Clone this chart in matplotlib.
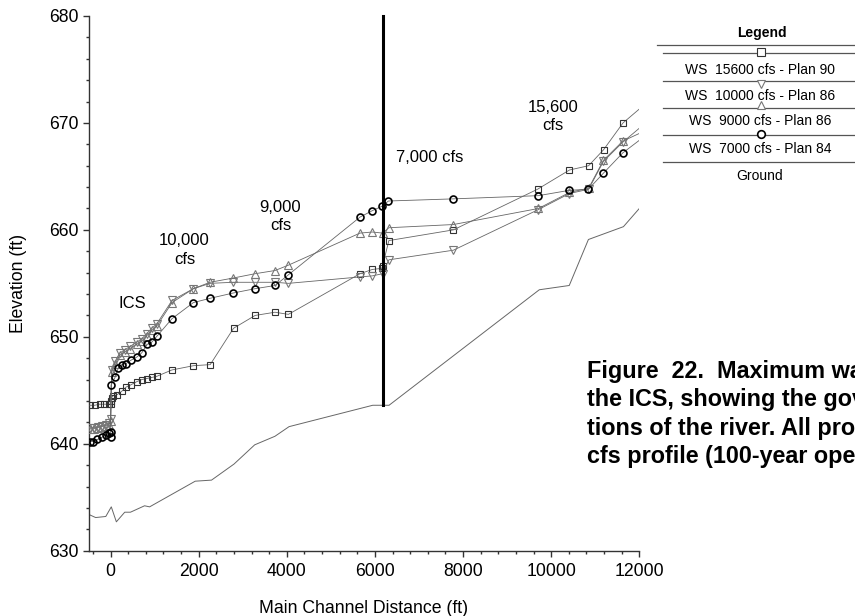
import matplotlib
matplotlib.use("Agg")
import matplotlib.pyplot as plt
from matplotlib.ticker import MultipleLocator
from matplotlib.lines import Line2D

plt.rcParams['font.family'] = ['Liberation Sans', 'DejaVu Sans']

# ---------------- data (station ft, elevation ft) ----------------
ws15600_x = [-470, -360, -250, -140, -40, 0, 0, 20, 60, 150, 250, 350, 455, 590, 705, 820, 930, 1045,
             1390, 1880, 2260, 2790, 3280, 3730, 4035, 5660, 5940, 6150, 6172, 6315, 7780,
             9690, 10415, 10850, 11190, 11630, 12200]
ws15600_y = [643.6, 643.6, 643.7, 643.7, 643.7, 643.7, 644.0, 644.3, 644.5, 644.6, 644.9, 645.3, 645.5,
             645.8, 646.0, 646.1, 646.2, 646.3, 646.9, 647.3, 647.4, 650.8, 652.0, 652.3, 652.1,
             655.9, 656.3, 656.4, 656.6, 659.0, 660.0, 663.8, 665.6, 666.0, 667.5, 670.0, 672.0]

ws10000_x = [-470, -380, -290, -200, -110, -40, 0, 25, 100, 213, 327, 440, 592, 706, 819, 933, 1046,
             1394, 1878, 2257, 2786, 3278, 3732, 4035, 5660, 5940, 6172, 6315, 7780,
             9710, 10415, 10850, 11185, 11625, 12200]
ws10000_y = [641.5, 641.5, 641.6, 641.7, 641.8, 641.9, 642.3, 646.9, 647.7, 648.5, 648.8, 649.1, 649.5,
             649.8, 650.3, 650.8, 651.2, 653.4, 654.5, 655.0, 655.1, 655.1, 655.1, 655.0,
             655.6, 655.7, 655.9, 657.2, 658.1, 661.9, 663.4, 663.8, 666.4, 668.2, 670.2]

ws9000_x = [-470, -380, -290, -200, -110, -40, 0, 25, 100, 213, 327, 440, 592, 706, 819, 933, 1046,
            1394, 1878, 2257, 2786, 3278, 3732, 4035, 5660, 5940, 6172, 6315, 7780,
            9710, 10415, 10850, 11185, 11625, 12200]
ws9000_y = [641.4, 641.4, 641.5, 641.6, 641.7, 641.8, 642.1, 646.7, 647.5, 648.3, 648.6, 648.9, 649.3,
            649.6, 650.1, 650.6, 651.0, 653.2, 654.5, 655.1, 655.5, 655.9, 656.2, 656.7,
            659.7, 659.8, 659.7, 660.2, 660.5, 662.0, 663.5, 663.9, 666.5, 668.3, 669.4]

ws7000_x = [-470, -400, -300, -200, -110, -30, 0, 0, 10, 100, 175, 252, 350, 456, 592, 706, 833, 933,
            1060, 1394, 1878, 2257, 2786, 3278, 3732, 4035, 5662, 5941, 6154, 6305, 7780,
            9710, 10413, 10845, 11185, 11625, 12200]
ws7000_y = [640.2, 640.2, 640.4, 640.6, 640.8, 641.0, 640.6, 641.1, 645.5, 646.2, 647.1, 647.4, 647.5,
            647.8, 648.1, 648.5, 649.3, 649.5, 650.1, 651.7, 653.2, 653.6, 654.1, 654.5, 654.8,
            655.8, 661.2, 661.8, 662.2, 662.7, 662.9, 663.2, 663.7, 663.8, 665.3, 667.2, 669.0]

ground_x = [-500, -340, -110, 15, 130, 320, 450, 770, 885, 1920, 2290, 2800, 3270, 3730, 4050,
            5950, 6320, 9730, 10410, 10845, 11640, 12000]
ground_y = [633.4, 633.1, 633.2, 634.1, 632.7, 633.6, 633.6, 634.2, 634.1, 636.5, 636.6, 638.1,
            639.9, 640.7, 641.6, 643.6, 643.6, 654.4, 654.8, 659.1, 660.3, 662.0]

struct_x = [6172, 6172]
struct_y = [643.6, 680]

flow_labels = [("ICS", 132, 304), ("10,000", 184, 241), ("cfs", 185, 259),
               ("9,000", 280, 208), ("cfs", 281, 226), ("7,000 cfs", 430, 157),
               ("15,600", 553, 107), ("cfs", 553, 126)]

legend_entries = ["WS  15600 cfs - Plan 90", "WS  10000 cfs - Plan 86",
                  "WS  9000 cfs - Plan 86", "WS  7000 cfs - Plan 84", "Ground"]

caption_lines = ["Figure  22.  Maximum water",
                 "the ICS, showing the governing",
                 "tions of the river. All profiles",
                 "cfs profile (100-year operation)."]

# ---------------- figure ----------------
W, H = 855, 616
fig = plt.figure(figsize=(W / 100, H / 100), dpi=100)


def fp(px, py):
    return px / W, 1 - py / H


ax = fig.add_axes([88.6 / W, 1 - 550.7 / H, (639.3 - 88.6) / W, (550.7 - 16) / H])
ax.set_xlim(-500, 12000)
ax.set_ylim(630, 680)

line_c = '#666666'
ax.plot(ground_x, ground_y, color=line_c, lw=0.7, zorder=2)
ax.plot(ws15600_x, ws15600_y, color=line_c, lw=0.6, marker='s', ms=5, mfc='none',
        mec='#333333', mew=0.8, zorder=3)
ax.plot(ws10000_x, ws10000_y, color=line_c, lw=0.6, marker='v', ms=6, mfc='none',
        mec='#777777', mew=0.8, zorder=3)
ax.plot(ws9000_x, ws9000_y, color=line_c, lw=0.6, marker='^', ms=6, mfc='none',
        mec='#777777', mew=0.8, zorder=3)
ax.plot(ws7000_x, ws7000_y, color=line_c, lw=0.6, marker='o', ms=5, mfc='none',
        mec='black', mew=1.2, zorder=4)
ax.plot(struct_x, struct_y, color='black', lw=2.2, zorder=5, clip_on=False)

for s in ['top', 'right']:
    ax.spines[s].set_visible(False)
for s in ['left', 'bottom']:
    ax.spines[s].set_color('#333333')
    ax.spines[s].set_linewidth(1.0)

ax.xaxis.set_major_locator(MultipleLocator(2000))
ax.xaxis.set_minor_locator(MultipleLocator(400))
ax.yaxis.set_major_locator(MultipleLocator(10))
ax.yaxis.set_minor_locator(MultipleLocator(2))
ax.tick_params(which='major', length=4, width=1, color='#333333', labelsize=12.7, pad=3)
ax.tick_params(which='minor', length=2.5, width=1, color='#333333')
ax.tick_params(axis='x', which='major', pad=5)

ax.set_xlabel("Main Channel Distance (ft)", fontsize=12.7, labelpad=14)
ax.set_ylabel("Elevation (ft)", fontsize=12.7, labelpad=16)

for txt, px, py in flow_labels:
    fig.text(*fp(px, py), txt, ha='center', va='center', fontsize=12)

# ---------------- legend (drawn manually) ----------------
fig.text(*fp(762, 33), "Legend", ha='center', va='center', fontsize=10, fontweight='bold')
fig.add_artist(Line2D([657 / W, 1.0], [1 - 45 / H] * 2, transform=fig.transFigure,
                      color='#555555', lw=0.9))
rule_y = [53.3, 80.7, 107.7, 135, 162.3]
marker_specs = [('s', '#333333', 0.8, 51.7), ('v', '#777777', 0.8, 83.5),
                ('^', '#777777', 0.8, 105), ('o', 'black', 1.2, 134), (None, None, None, None)]
text_y = [70, 95.7, 121, 149.3, 175.7]
for ry, (mk, mc, mw, my), ty, lab in zip(rule_y, marker_specs, text_y, legend_entries):
    fig.add_artist(Line2D([663 / W, 1.0], [1 - ry / H] * 2, transform=fig.transFigure,
                          color='#555555', lw=0.9))
    if mk is not None:
        fig.add_artist(Line2D([761 / W], [1 - my / H], transform=fig.transFigure,
                              marker=mk, ms=5.5, mfc='white', mec=mc, mew=mw, lw=0))
    fig.text(*fp(760, ty), lab, ha='center', va='center', fontsize=10)

# ---------------- caption (runs off the right edge, as in the source page) ----------------
for i, line in enumerate(caption_lines):
    fig.text(*fp(587, 378 + i * 28.4), line, ha='left', va='baseline',
             fontsize=16.8, fontweight='bold')

fig.savefig("out.png", dpi=100)
